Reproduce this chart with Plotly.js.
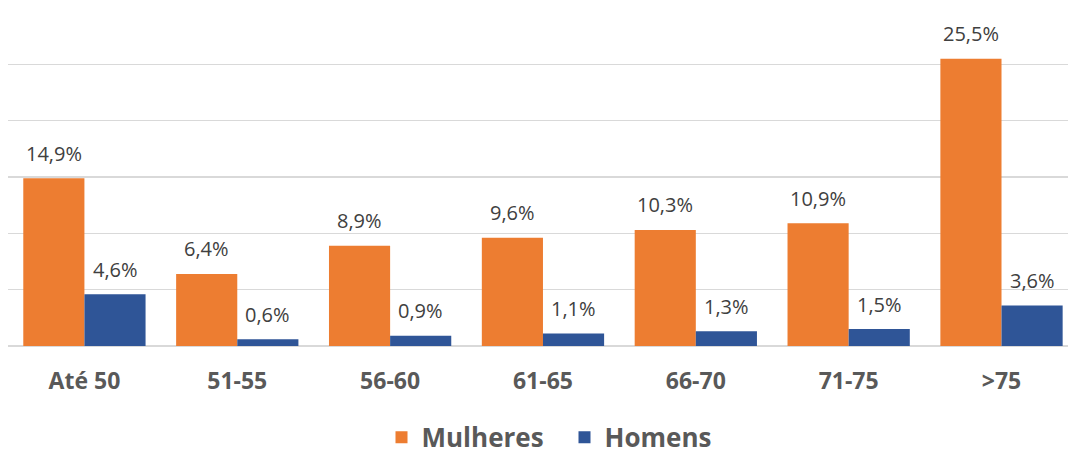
<!DOCTYPE html>
<html><head><meta charset="utf-8">
<script src="https://cdn.plot.ly/plotly-3.0.1.min.js"></script>
<style>html,body{margin:0;padding:0;background:#fff;}#chart{width:1068px;height:454px;}</style>
</head><body><div id="chart"></div>
<script>
const categories = ["Até 50","51-55","56-60","61-65","66-70","71-75",">75"];
const mulheres = [14.9, 6.4, 8.9, 9.6, 10.3, 10.9, 25.5];
const homens = [4.6, 0.6, 0.9, 1.1, 1.3, 1.5, 3.6];
const seriesNames = ["Mulheres","Homens"];
const colors = ["#ED7D31","#2F5597"];

const font = "'Open Sans', sans-serif";
const fmt = v => v.toFixed(1).replace('.', ',') + '%';

const traces = [mulheres, homens].map((vals, i) => ({
  type: 'bar', name: seriesNames[i], x: categories, y: vals,
  marker: {color: colors[i], line: {width: 0}},
  hoverinfo: 'skip'
}));

const annotations = [];
[mulheres, homens].forEach((vals, i) => {
  vals.forEach((v, k) => {
    annotations.push({
      xref: 'x', yref: 'y', x: categories[k], y: v, text: fmt(v),
      showarrow: false, xshift: i === 0 ? -30.6 : 30.6, yanchor: 'middle', yshift: 25,
      font: {family: font, size: 20, color: '#404040'}
    });
  });
});

const layout = {
  width: 1068, height: 454,
  margin: {l: 8, r: 0, t: 8, b: 108, autoexpand: false},
  paper_bgcolor: '#fff', plot_bgcolor: '#fff',
  barmode: 'group', bargap: 0.2, bargroupgap: 0,
  separators: ',.',
  xaxis: {
    type: 'category', range: [-0.5, 6.435], showgrid: false, zeroline: false,
    showline: false, ticks: '', ticklabelstandoff: 19,
    tickfont: {family: font, size: 23, color: '#595959', weight: 'bold'}
  },
  yaxis: {
    range: [0, 30], dtick: 5, showticklabels: false, showgrid: true,
    gridcolor: '#D9D9D9', gridwidth: 1.5, zeroline: true, zerolinecolor: '#D9D9D9', zerolinewidth: 1.5
  },
  showlegend: true,
  legend: {
    orientation: 'h', x: 0.525, xanchor: 'center', y: -0.27, yanchor: 'middle',
    font: {family: font, size: 26, color: '#595959', weight: 'bold'},
    itemwidth: 30, traceorder: 'normal', entrywidth: 138
  },
  annotations: annotations
};

Plotly.newPlot('chart', traces, layout, {displayModeBar: false, staticPlot: true});
</script></body></html>
